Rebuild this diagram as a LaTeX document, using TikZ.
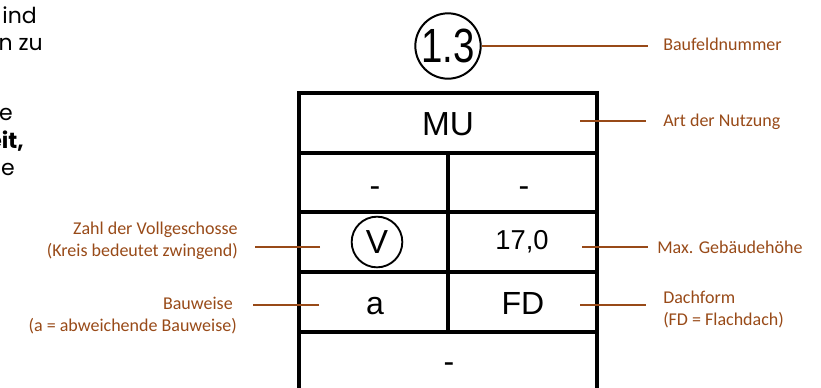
\documentclass[tikz,border=0pt]{standalone}
\usepackage{fontspec}
\setmainfont{Liberation Sans}
\newfontfamily\hinweisfont{Carlito}
\newfontfamily\randfont{Poppins}
\definecolor{braun}{RGB}{152,74,24}

\tikzset{
  feld/.style={font=\fontsize{24}{24}\selectfont, inner sep=0pt, anchor=base},
  hinweis/.style={font=\hinweisfont\fontsize{13.5}{16.5}\selectfont, text=braun, inner sep=0pt},
  leader/.style={draw=braun, line width=0.9pt},
  rand/.style={font=\randfont\fontsize{16.5}{20}\selectfont, inner sep=0pt, anchor=base east},
  schablone/.style={line width=2.5pt},
}

\begin{document}
\begin{tikzpicture}[x=0.75pt,y=-0.75pt]
  \useasboundingbox (0,0) rectangle (821,387);
  % Textreste am linken Rand
  \node[rand] (r1) at (37,23) {ind};
  \node[rand] (r2) at (43,50) {n zu};
  \node[rand] (r3) at (13,120) {e};
  \node[rand] (r4) at (24,148) {\bfseries eit,};
  \node[rand] (r5) at (15,175) {e};
  % Baufeldnummer
  \node[circle, draw, line width=1.5pt, minimum size=49pt, inner sep=0pt] (nr) at (448,46)
    {\scalebox{0.8}[1]{\fontsize{36}{36}\selectfont 1.3}};
  % Nutzungsschablone
  \draw[schablone] (299,400) -- (299,93) -- (597,93) -- (597,400);
  \foreach \y in {153,212,272,332}
    \draw[schablone] (299,\y) -- (597,\y);
  \draw[schablone] (448,153) -- (448,332);
  \node[feld, font=\fontsize{25}{25}\selectfont] (mu) at (448,135) {MU};
  \node[feld] (gf-l) at (375,196) {-};
  \node[feld] (gf-r) at (524,196) {-};
  \node[circle, draw, line width=1.4pt, minimum size=38pt, inner sep=0pt,
    font=\fontsize{25}{25}\selectfont] (vg) at (377,242) {V};
  \node[feld, font=\fontsize{20.5}{20.5}\selectfont] (gh) at (522,249) {17,0};
  \node[feld] (bw) at (375,314) {a};
  \node[feld] (df) at (523,314) {FD};
  \node[feld] (rest) at (449,372) {-};
  % Hinweistexte
  \node[hinweis, anchor=base west] (h-nr) at (663,50) {Baufeldnummer};
  \node[hinweis, anchor=base west] (h-mu) at (663,126) {Art der Nutzung};
  \node[hinweis, anchor=base west] (h-gh) at (657,253) {Max. Gebäudehöhe};
  \node[hinweis, anchor=base west, align=left] (h-df) at (663,325) {Dachform\\(FD = Flachdach)};
  \node[hinweis, anchor=base east, align=right] (h-vg) at (238,256) {Zahl der Vollgeschosse\\(Kreis bedeutet zwingend)};
  \node[hinweis, anchor=base east, align=right] (h-bw) at (237,331) {Bauweise\kern3pt\\(a = abweichende Bauweise)};
  % Hinweislinien
  \coordinate (e-nr) at (648,46);
  \coordinate (a-mu) at (580,121);
  \coordinate (e-mu) at (646,121);
  \coordinate (a-gh) at (582,247);
  \coordinate (e-gh) at (648,247);
  \coordinate (a-df) at (580,305);
  \coordinate (e-df) at (646,305);
  \coordinate (a-vg) at (320,247);
  \coordinate (e-vg) at (255,247);
  \coordinate (a-bw) at (319,305);
  \coordinate (e-bw) at (253,305);
  \draw[leader] (nr) -- (e-nr);
  \draw[leader] (a-mu) -- (e-mu);
  \draw[leader] (a-gh) -- (e-gh);
  \draw[leader] (a-df) -- (e-df);
  \draw[leader] (a-vg) -- (e-vg);
  \draw[leader] (a-bw) -- (e-bw);
\end{tikzpicture}
\end{document}
